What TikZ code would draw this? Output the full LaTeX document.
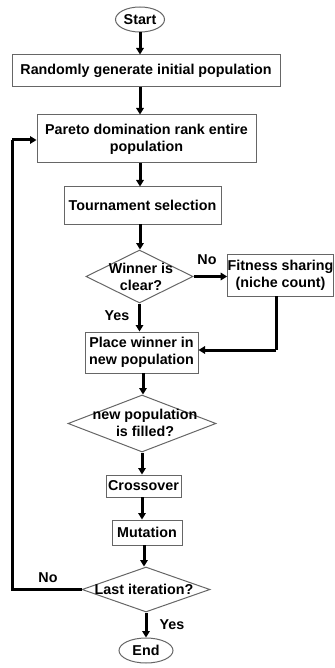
\documentclass[tikz,border=0pt]{standalone}
\usepackage{fontspec}
\setmainfont{Liberation Sans}
\usetikzlibrary{shapes.geometric,arrows.meta}
\tikzset{
  base/.style={draw=black!60, line width=1pt, inner sep=0pt, align=center,
    font=\fontsize{14.3}{17}\selectfont\bfseries},
  procbox/.style={base, rectangle},
  termbox/.style={base, ellipse},
  decbox/.style={base, diamond},
  txt/.style={inner sep=0pt, align=center, font=\fontsize{14.3}{17}\selectfont\bfseries},
  lbl/.style={inner sep=0pt, font=\fontsize{14.3}{17}\selectfont\bfseries},
  arr/.style={line width=3pt, -{Triangle[width=7.5pt,length=6.5pt]}},
  thick line/.style={line width=3pt},
}
\begin{document}
\begin{tikzpicture}[x=1pt,y=-1pt]
\useasboundingbox (0,0) rectangle (334,668);
\node[termbox, minimum width=49, minimum height=25] (start) at (140,19.5) {Start};
\node[procbox, minimum width=268, minimum height=32] (rand) at (146,71) {Randomly generate initial population};
\node[procbox, minimum width=219, minimum height=48] (pareto) at (146.5,139) {Pareto domination rank entire\\population};
\node[procbox, minimum width=157, minimum height=37] (tour) at (142.5,205.5) {Tournament selection};
\node[decbox, minimum width=107, minimum height=53] (win) at (139.5,276.5) {};
\node[txt] (wint) at (141,277) {Winner is\\clear?};
\node[procbox, minimum width=105, minimum height=42] (fit) at (280.5,275) {Fitness sharing\\(niche count)};
\node[procbox, minimum width=113, minimum height=41] (place) at (141.5,352.5) {Place winner in\\new population};
\node[decbox, minimum width=148, minimum height=57] (fill) at (142,423.5) {};
\node[txt] (fillt) at (145,423) {new population\\is filled?};
\node[procbox, minimum width=75, minimum height=22] (cross) at (143.5,486) {Crossover};
\node[procbox, minimum width=70, minimum height=25] (mut) at (147,532.5) {Mutation};
\node[decbox, minimum width=128, minimum height=45] (last) at (146,589.5) {};
\node[txt] (lastt) at (144,589.5) {Last iteration?};
\node[termbox, minimum width=54, minimum height=25] (end) at (146,650.5) {End};

\draw[arr] (start.south) -- (start.south |- rand.north);
\draw[arr] (140,87) coordinate (r1) -- (r1 |- pareto.north);
\draw[arr] (140,163) coordinate (p1) -- (p1 |- tour.north);
\draw[arr] (140,224) coordinate (t1) -- (t1 |- win.north);
\draw[arr] (win.south) -- (win.south |- place.north);
\draw[arr] (win.east) -- (win.east -| fit.west);
\coordinate (f1) at (276,296);
\coordinate (f2) at (276,350);
\draw[thick line] (f1) -- (f2);
\draw[arr] (f2) -- (f2 -| place.east);
\draw[arr] (143,373) coordinate (pl1) -- (pl1 |- fill.north);
\draw[arr] (fill.south) -- (fill.south |- cross.north);
\draw[arr] (142,497) coordinate (c1) -- (c1 |- mut.north);
\draw[arr] (144,545) coordinate (m1) -- (m1 |- last.north);
\draw[arr] (last.south) -- (last.south |- end.north);
\coordinate (l1) at (12,589.5);
\coordinate (l2) at (12,140);
\draw[line width=3pt] (last.west) -- (l1) -- (l2);
\draw[arr] (l2) -- (l2 -| pareto.west);

\node[lbl] (no1) at (207,260) {No};
\node[lbl] (yes1) at (117,316) {Yes};
\node[lbl] (no2) at (48,578) {No};
\node[lbl] (yes2) at (172,625) {Yes};
\end{tikzpicture}
\end{document}
